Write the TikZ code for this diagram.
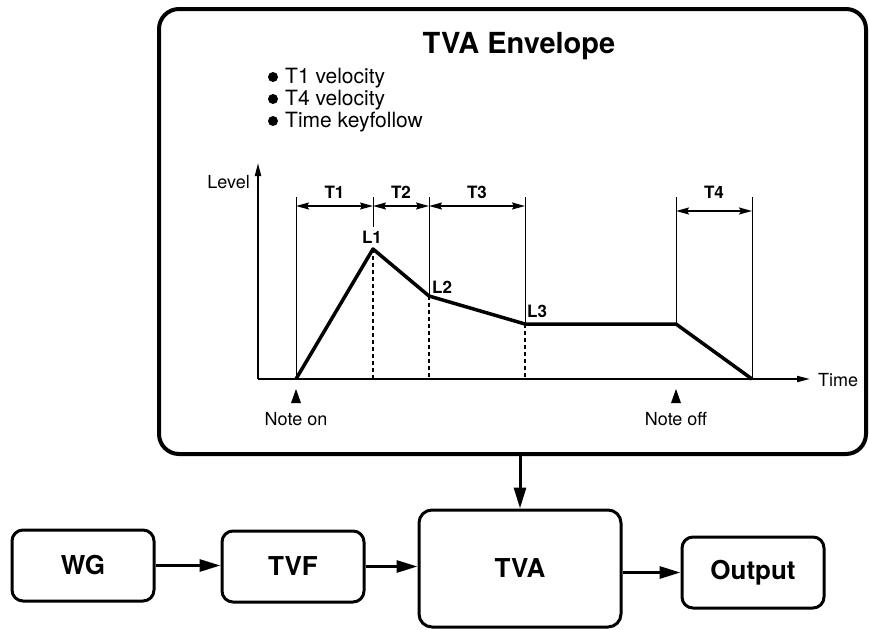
\documentclass[tikz,border=0pt]{standalone}
\usepackage{fontspec}
\setmainfont{TeX Gyre Heros}
\usetikzlibrary{arrows.meta,positioning,calc}

\begin{document}
\begin{tikzpicture}[x=1pt,y=-1pt,>=Stealth,
  blk/.style={draw,line width=3pt,rounded corners=11pt,inner sep=0pt,minimum width=142pt,minimum height=71pt,font=\fontsize{26}{28}\selectfont\bfseries},
  flow/.style={line width=3pt,-{Triangle[length=21pt,width=12pt]}},
  guide/.style={line width=1pt},
  dashguide/.style={line width=2pt,dash pattern=on 4pt off 3pt},
  dim/.style={line width=1.5pt,{Stealth[length=13pt,width=7pt,inset=2pt]}-{Stealth[length=13pt,width=7pt,inset=2pt]}},
  axis/.style={line width=1.8pt,-{Triangle[length=13pt,width=6pt]}},
  curve/.style={line width=3.5pt,line join=round},
  lbl/.style={font=\fontsize{18}{20}\selectfont,inner sep=0pt},
  tlbl/.style={font=\fontsize{17}{19}\selectfont\bfseries}]
\useasboundingbox (0,0) rectangle (869,629);

\node[draw,line width=4pt,rounded corners=20pt,minimum width=707pt,minimum height=445pt,inner sep=0pt] (box) at (512.5,231.5) {};
\node[font=\fontsize{29}{31}\selectfont\bfseries,anchor=base] (title) at (519,53) {TVA Envelope};
\foreach \y/\txt [count=\i] in {83/T1 velocity,105/T4 velocity,127/Time keyfollow}{
  \fill (273,\y-6) circle (5pt);
  \node[lbl,font=\fontsize{21}{23}\selectfont,anchor=base west] (b\i) at (285,\y) {\txt};}

\coordinate (O) at (258,379);
\coordinate (top) at (258,163);
\coordinate (tend) at (810,379);
\coordinate (G) at (0,197);
\coordinate (D) at (0,206);
\coordinate (D4) at (0,211);
\coordinate (N) at (0,389);
\coordinate (NT) at (0,425);
\coordinate (P0) at (296,379);
\coordinate (P1) at (373,249);
\coordinate (P2) at (429,296);
\coordinate (P3) at (525,324);
\coordinate (P4) at (676,324);
\coordinate (P5) at (752,379);

\draw[axis] (O) -- (top);
\draw[axis] (O) -- (tend);
\node[lbl,anchor=base east] (level) at (250,188) {Level};
\node[lbl,anchor=base west] (time) at (818,386) {Time};

\foreach \p in {P0,P2,P3,P4,P5} \draw[guide] (\p |- G) -- (\p);
\draw[guide] (P1 |- G) -- ++(0,30);
\foreach \p in {P1,P2,P3} \draw[dashguide] (\p) -- (\p |- O);

\draw[dim] (P0 |- D) -- node[tlbl,above=3pt] (t1) {T1} (P1 |- D);
\draw[dim] (P1 |- D) -- node[tlbl,above=3pt] (t2) {T2} (P2 |- D);
\draw[dim] (P2 |- D) -- node[tlbl,above=3pt] (t3) {T3} (P3 |- D);
\draw[dim] (P4 |- D4) -- node[tlbl,above=8pt] (t4) {T4} (P5 |- D4);

\draw[curve] (P0) -- (P1) -- (P2) -- (P3) -- (P4) -- (P5);
\node[tlbl,anchor=base] (l1) at (372,243) {L1};
\node[tlbl,anchor=base west,inner sep=0pt] (l2) at (432,293) {L2};
\node[tlbl,anchor=base west,inner sep=0pt] (l3) at (527,317) {L3};

\foreach \p in {P0,P4} \fill (\p |- N) -- ++(-5,14) -- ++(10,0) -- cycle;
\node[lbl,anchor=base] (non) at (P0 |- NT) {Note on};
\node[lbl,anchor=base] (noff) at (P4 |- NT) {Note off};

\node[blk] (wg) at (83,565.5) {WG};
\node[blk] (tvf) at (293,566.5) {TVF};
\node[blk,minimum width=202pt,minimum height=117pt,rounded corners=13pt] (tva) at (520,568.5) {TVA};
\node[blk] (out) at (753,572.5) {Output};

\draw[flow] (wg.east) -- (wg.east -| tvf.west);
\draw[flow] (tvf.east) -- (tvf.east -| tva.west);
\draw[flow] (tva.east |- out) -- (out.west);
\draw[flow] (box.south -| tva) -- (tva.north);
\end{tikzpicture}
\end{document}
